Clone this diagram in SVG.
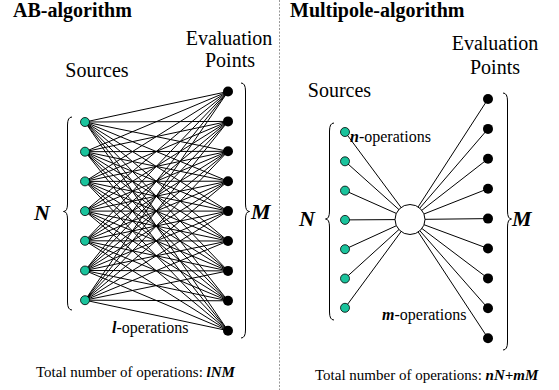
<svg xmlns="http://www.w3.org/2000/svg" width="559" height="390" viewBox="0 0 559 390" font-family="'Liberation Serif','Times New Roman','DejaVu Serif',serif">
<style>
text{font-family:'Liberation Serif','Times New Roman','DejaVu Serif',serif;fill:#000}
.title{font-size:20px;font-weight:bold}
.lbl{font-size:20px;text-anchor:middle}
.big{font-size:22px;font-weight:bold;font-style:italic}
.ops{font-size:16px}
.tot{font-size:15px}
.bi{font-weight:bold;font-style:italic}
.src{fill:#1ac39c;stroke:#000;stroke-width:0.8}
.ev{fill:#000}
.ln{stroke:#000;stroke-width:1;fill:none}
.br{stroke:#000;stroke-width:1;fill:none}
</style>
<rect width="559" height="390" fill="#fff"/>
<line x1="279.5" y1="0" x2="279.5" y2="390" stroke="#999" stroke-width="1" stroke-dasharray="2,1.5"/>
<text class="title" x="13" y="17">AB-algorithm</text>
<text class="title" x="290" y="17">Multipole-algorithm</text>
<text class="lbl" x="229" y="45">Evaluation</text>
<text class="lbl" x="230" y="67">Points</text>
<text class="lbl" x="97" y="77">Sources</text>
<text class="lbl" x="495" y="50">Evaluation</text>
<text class="lbl" x="495" y="74">Points</text>
<text class="lbl" x="339.5" y="97">Sources</text>
<g id="connectors" class="ln">
<path d="M85 122L228 91.5M85 122L228 121.4M85 122L228 151.3M85 122L228 181.2M85 122L228 211.1M85 122L228 241M85 122L228 270.9M85 122L228 300.8M85 122L228 330.7"/>
<path d="M85 151.7L228 91.5M85 151.7L228 121.4M85 151.7L228 151.3M85 151.7L228 181.2M85 151.7L228 211.1M85 151.7L228 241M85 151.7L228 270.9M85 151.7L228 300.8M85 151.7L228 330.7"/>
<path d="M85 181.4L228 91.5M85 181.4L228 121.4M85 181.4L228 151.3M85 181.4L228 181.2M85 181.4L228 211.1M85 181.4L228 241M85 181.4L228 270.9M85 181.4L228 300.8M85 181.4L228 330.7"/>
<path d="M85 211.1L228 91.5M85 211.1L228 121.4M85 211.1L228 151.3M85 211.1L228 181.2M85 211.1L228 211.1M85 211.1L228 241M85 211.1L228 270.9M85 211.1L228 300.8M85 211.1L228 330.7"/>
<path d="M85 240.8L228 91.5M85 240.8L228 121.4M85 240.8L228 151.3M85 240.8L228 181.2M85 240.8L228 211.1M85 240.8L228 241M85 240.8L228 270.9M85 240.8L228 300.8M85 240.8L228 330.7"/>
<path d="M85 270.5L228 91.5M85 270.5L228 121.4M85 270.5L228 151.3M85 270.5L228 181.2M85 270.5L228 211.1M85 270.5L228 241M85 270.5L228 270.9M85 270.5L228 300.8M85 270.5L228 330.7"/>
<path d="M85 300.2L228 91.5M85 300.2L228 121.4M85 300.2L228 151.3M85 300.2L228 181.2M85 300.2L228 211.1M85 300.2L228 241M85 300.2L228 270.9M85 300.2L228 300.8M85 300.2L228 330.7"/>
<path d="M345 132L410 219.5M345 161.3L410 219.5M345 190.6L410 219.5M345 219.9L410 219.5M345 249.2L410 219.5M345 278.5L410 219.5M345 307.8L410 219.5"/>
<path d="M410 219.5L488 99M410 219.5L488 128.9M410 219.5L488 158.8M410 219.5L488 188.7M410 219.5L488 218.6M410 219.5L488 248.5M410 219.5L488 278.4M410 219.5L488 308.3M410 219.5L488 338.2"/>
</g>
<path class="br" d="M72 117Q67.5 117 67.5 125L67.5 204Q67.5 211.5 63.5 211.5Q67.5 211.5 67.5 219L67.5 302Q67.5 310 72 310"/>
<path class="br" d="M241 83Q245.5 83 245.5 91L245.5 204Q245.5 211.5 249.5 211.5Q245.5 211.5 245.5 219L245.5 330Q245.5 338 241 338"/>
<path class="br" d="M334 123Q329.5 123 329.5 131L329.5 211Q329.5 219 325.5 219Q329.5 219 329.5 227L329.5 312Q329.5 320 334 320"/>
<path class="br" d="M503 93Q507.5 93 507.5 101L507.5 211Q507.5 219 511.5 219Q507.5 219 507.5 227L507.5 342Q507.5 350 503 350"/>
<text class="big" x="34" y="220">N</text>
<text class="big" x="251" y="219">M</text>
<text class="big" x="299" y="226">N</text>
<text class="big" x="512" y="226">M</text>
<text class="ops" x="112" y="333"><tspan class="bi">l</tspan>-operations</text>
<text class="ops" x="350" y="142"><tspan class="bi">n</tspan>-operations</text>
<text class="ops" x="382" y="320"><tspan class="bi">m</tspan>-operations</text>
<text class="tot" x="36" y="377">Total number of operations: <tspan class="bi">lNM</tspan></text>
<text class="tot" x="315" y="380">Total number of operations: <tspan class="bi">nN+mM</tspan></text>
<g id="ab-src-1"><circle class="src" cx="85" cy="122" r="4.5"/></g>
<g id="ab-src-2"><circle class="src" cx="85" cy="151.7" r="4.5"/></g>
<g id="ab-src-3"><circle class="src" cx="85" cy="181.4" r="4.5"/></g>
<g id="ab-src-4"><circle class="src" cx="85" cy="211.1" r="4.5"/></g>
<g id="ab-src-5"><circle class="src" cx="85" cy="240.8" r="4.5"/></g>
<g id="ab-src-6"><circle class="src" cx="85" cy="270.5" r="4.5"/></g>
<g id="ab-src-7"><circle class="src" cx="85" cy="300.2" r="4.5"/></g>
<g id="ab-ev-1"><circle class="ev" cx="228" cy="91.5" r="5"/></g>
<g id="ab-ev-2"><circle class="ev" cx="228" cy="121.4" r="5"/></g>
<g id="ab-ev-3"><circle class="ev" cx="228" cy="151.3" r="5"/></g>
<g id="ab-ev-4"><circle class="ev" cx="228" cy="181.2" r="5"/></g>
<g id="ab-ev-5"><circle class="ev" cx="228" cy="211.1" r="5"/></g>
<g id="ab-ev-6"><circle class="ev" cx="228" cy="241" r="5"/></g>
<g id="ab-ev-7"><circle class="ev" cx="228" cy="270.9" r="5"/></g>
<g id="ab-ev-8"><circle class="ev" cx="228" cy="300.8" r="5"/></g>
<g id="ab-ev-9"><circle class="ev" cx="228" cy="330.7" r="5"/></g>
<g id="mp-src-1"><circle class="src" cx="345" cy="132" r="4.5"/></g>
<g id="mp-src-2"><circle class="src" cx="345" cy="161.3" r="4.5"/></g>
<g id="mp-src-3"><circle class="src" cx="345" cy="190.6" r="4.5"/></g>
<g id="mp-src-4"><circle class="src" cx="345" cy="219.9" r="4.5"/></g>
<g id="mp-src-5"><circle class="src" cx="345" cy="249.2" r="4.5"/></g>
<g id="mp-src-6"><circle class="src" cx="345" cy="278.5" r="4.5"/></g>
<g id="mp-src-7"><circle class="src" cx="345" cy="307.8" r="4.5"/></g>
<g id="mp-center"><circle cx="410" cy="219.5" r="15" fill="#fff" stroke="#000" stroke-width="1"/></g>
<g id="mp-ev-1"><circle class="ev" cx="488" cy="99" r="5"/></g>
<g id="mp-ev-2"><circle class="ev" cx="488" cy="128.9" r="5"/></g>
<g id="mp-ev-3"><circle class="ev" cx="488" cy="158.8" r="5"/></g>
<g id="mp-ev-4"><circle class="ev" cx="488" cy="188.7" r="5"/></g>
<g id="mp-ev-5"><circle class="ev" cx="488" cy="218.6" r="5"/></g>
<g id="mp-ev-6"><circle class="ev" cx="488" cy="248.5" r="5"/></g>
<g id="mp-ev-7"><circle class="ev" cx="488" cy="278.4" r="5"/></g>
<g id="mp-ev-8"><circle class="ev" cx="488" cy="308.3" r="5"/></g>
<g id="mp-ev-9"><circle class="ev" cx="488" cy="338.2" r="5"/></g>
</svg>
